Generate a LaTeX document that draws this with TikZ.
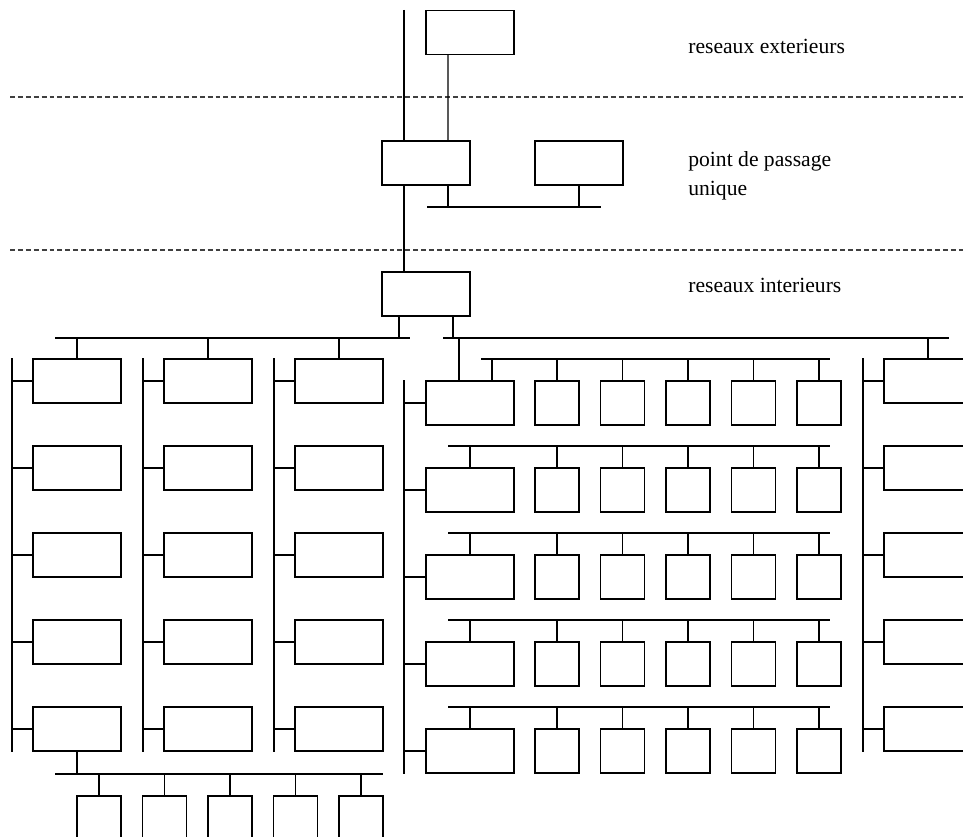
\documentclass[tikz,border=0pt]{standalone}
\usepackage{fontspec}
\setmainfont{Liberation Serif}
\usetikzlibrary{positioning}
\tikzset{
  net/.style={line width=0.6pt},
  host/.style={draw, fill=white, line width=0.6pt, inner sep=0pt, minimum width=1.76cm, minimum height=0.88cm},
  station/.style={host, minimum width=0.88cm},
  zone/.style={draw=black!75, line width=0.6pt, dash pattern=on 2.8pt off 1.7pt},
  zonelabel/.style={anchor=base west, inner sep=0pt, align=left, font=\fontsize{12.3}{16.6}\selectfont},
}

\begin{document}
\begin{tikzpicture}[x=0.02cm, y=-0.02cm]
  \useasboundingbox (0,0) rectangle (963,837);
  \clip (0,0) rectangle (963,837);

  %% Zones
  \draw[zone] (10,97) -- (963,97);
  \draw[zone] (10,250) -- (963,250);
  \node[zonelabel] (lext) at (688,54) {reseaux exterieurs};
  \node[zonelabel] (lpass) at (688,196) {point de passage\\unique};
  \node[zonelabel] (lint) at (688,293) {reseaux interieurs};

  %% Outside and single crossing point
  \node[host] (ext) at (470,32.5) {};
  \node[host] (gw) at (426,163) {};
  \node[host] (fw) at (579,163) {};
  \node[host] (int) at (426,294) {};
  \coordinate (top) at (404,10);
  \draw[net] (top) -- (gw.north -| top);
  \draw[net] (gw.south -| top) -- (int.north -| top);
  \draw[net] ([xshift=-0.44cm]ext.south) -- ([xshift=0.44cm]gw.north);

  \coordinate (gwbusL) at (427,207);
  \coordinate (gwbusR) at (601,207);
  \draw[net] (gwbusL) -- (gwbusR);
  \draw[net] ([xshift=0.44cm]gw.south) -- ([xshift=0.44cm]gw.south |- gwbusL);
  \draw[net] (fw.south) -- (fw.south |- gwbusL);

  %% Inside backbone
  \coordinate (busL) at (55,338);
  \coordinate (busLe) at (410,338);
  \coordinate (busR) at (443,338);
  \coordinate (busRe) at (949,338);
  \draw[net] (busL) -- (busLe);
  \draw[net] (busR) -- (busRe);
  \draw[net] ([xshift=-0.54cm]int.south) -- ([xshift=-0.54cm]int.south |- busL);
  \draw[net] ([xshift=0.54cm]int.south) -- ([xshift=0.54cm]int.south |- busR);

  %% Columns of hosts
  \foreach \c/\x in {a/77, b/208, c/339, d/928} {
    \coordinate (sp\c) at (\x-65,0);
    \foreach \r in {0,...,4} {
      \node[host] (\c\r) at (\x,381+87*\r) {};
      \draw[net] (\c\r.west) -- (\c\r.west -| sp\c);
    }
    \draw[net] (\c0.north -| sp\c) -- (\c4.south -| sp\c);
    \draw[net] (\c0.north) -- (\c0.north |- busL);
  }

  %% Middle block: one host and five stations per row
  \coordinate (spm) at (404,0);
  \foreach \r/\bs/\dx in {0/481/22, 1/448/0, 2/448/0, 3/448/0, 4/448/0} {
    \node[host] (m\r) at (470,403+87*\r) {};
    \draw[net] (m\r.west) -- (m\r.west -| spm);
    \coordinate (sb\r) at (\bs,359+87*\r);
    \coordinate (se\r) at (830,359+87*\r);
    \draw[net] (sb\r) -- (se\r);
    \draw[net] ([xshift=\dx*0.02cm]m\r.north) -- ([xshift=\dx*0.02cm]m\r.north |- sb\r);
    \foreach \k in {0,...,4} {
      \node[station] (m\r-\k) at (557+65.5*\k,403+87*\r) {};
      \draw[net] (m\r-\k.north) -- (m\r-\k.north |- sb\r);
    }
  }
  \draw[net] (m0.north -| spm) -- (m4.south -| spm);
  \draw[net] ([xshift=-0.22cm]m0.north) -- ([xshift=-0.22cm]m0.north |- busR);

  %% Bottom stations
  \coordinate (bbL) at (55,774);
  \coordinate (bbR) at (383,774);
  \draw[net] (bbL) -- (bbR);
  \draw[net] (a4.south) -- (a4.south |- bbL);
  \foreach \k in {0,...,4} {
    \node[station] (t\k) at (99+65.5*\k,818) {};
    \draw[net] (t\k.north) -- (t\k.north |- bbL);
  }
\end{tikzpicture}
\end{document}
